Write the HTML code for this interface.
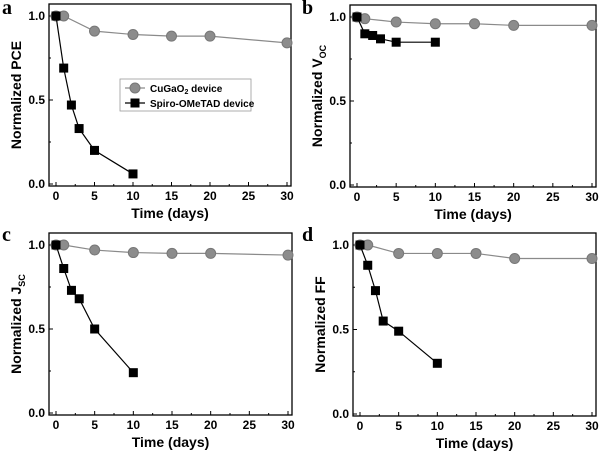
<!DOCTYPE html>
<html><head><meta charset="utf-8"><style>
body{margin:0;background:#fff;width:600px;height:452px;overflow:hidden}
svg text{font-family:"Liberation Sans",Arial,sans-serif;font-weight:bold}
svg text.letter{font-family:"Liberation Serif",serif}
</style></head><body>
<svg id="s" width="600" height="452"></svg>
<script>
const days=[0,1,5,10,15,20,30];
const spiroDays=[0,1,2,3,5,10];
const cuPCE=[1,1.0,0.91,0.89,0.88,0.88,0.84];
const spPCE=[1,0.69,0.47,0.33,0.2,0.06];
const cuVOC=[1,0.99,0.97,0.96,0.96,0.95,0.95];
const spVOC=[1,0.9,0.89,0.87,0.85,0.85];
const cuJSC=[1,1.0,0.97,0.955,0.95,0.95,0.94];
const spJSC=[1,0.86,0.73,0.68,0.5,0.24];
const cuFF=[1,1.0,0.95,0.95,0.95,0.92,0.92];
const spFF=[1,0.88,0.73,0.55,0.49,0.3];
const xTicks=[0,5,10,15,20,25,30];
const yTicks=[0.0,0.5,1.0];
const NS="http://www.w3.org/2000/svg";
const svg=document.getElementById('s');
function el(t,a,p){const e=document.createElementNS(NS,t);for(const k in a)e.setAttribute(k,a[k]);(p||svg).appendChild(e);return e;}
function panel(o){
  const g=el('g',{});
  
  
  const sx=v=>o.x0+(v/30)*(o.x30-o.x0);
  const sy=v=>o.y0-v*(o.y0-o.y1);
  const L=o.x0-7,R=o.x30+4,T=o.y1-12,B=o.y0+2;
  const fr=el('rect',{x:L,y:T,width:R-L,height:B-T,fill:'none',stroke:'#000','stroke-width':1.3},g);
  
  for(let v=0;v<=30;v+=2.5){const X=sx(v);const big=v%5===0;
    el('line',{x1:X,x2:X,y1:B,y2:B-(big?4:2),stroke:'#000','stroke-width':1},g);}
  xTicks.forEach(v=>{const t=el('text',{x:sx(v),y:B+14,'text-anchor':'middle','font-size':12},g);t.textContent=v;
    });
  for(let v=0;v<=1.0001;v+=0.25){const Y=sy(v);const big=Math.abs(v*2-Math.round(v*2))<1e-6;
    el('line',{x1:L,x2:L+(big?4:2),y1:Y,y2:Y,stroke:'#000','stroke-width':1},g);}
  yTicks.forEach(v=>{const t=el('text',{x:L-4,y:sy(v)+4,'text-anchor':'end','font-size':12},g);t.textContent=v.toFixed(1);
    });
  const xt=el('text',{x:(L+R)/2,y:B+32,'text-anchor':'middle','font-size':14},g);xt.textContent='Time (days)';
  
  const yt=el('text',{x:0,y:0,'text-anchor':'middle','font-size':14,transform:`translate(${L-28},${(T+B)/2}) rotate(-90)`},g);
  
  yt.appendChild(document.createTextNode('Normalized '+o.ylab));
  if(o.sub){const ts=el('tspan',{'font-size':9,dy:4},yt);ts.textContent=o.sub;}
  const lt=el('text',{x:o.lx,y:o.ly,'font-size':20,class:'letter'},g);lt.textContent=o.letter;
  
  const pc=el('polyline',{points:days.map((d,i)=>sx(d)+','+sy(o.cu[i])).join(' '),fill:'none',stroke:'#8a8a8a','stroke-width':1.2},g);
  
  days.forEach((d,i)=>{const c=el('circle',{cx:sx(d),cy:sy(o.cu[i]),r:5,fill:'#8c8c8c',stroke:'#777'},g);
    });
  const ps=el('polyline',{points:spiroDays.map((d,i)=>sx(d)+','+sy(o.sp[i])).join(' '),fill:'none',stroke:'#000','stroke-width':1.2},g);
  
  spiroDays.forEach((d,i)=>{const r=el('rect',{x:sx(d)-4.5,y:sy(o.sp[i])-4.5,width:9,height:9,fill:'#000'},g);
    });
  return g;
}
panel({letter:'a',x0:56,x30:287,y0:184,y1:16,cu:cuPCE,sp:spPCE,ylab:'PCE',lx:2,ly:14});
panel({letter:'b',x0:357,x30:592,y0:185,y1:17,cu:cuVOC,sp:spVOC,ylab:'V',sub:'OC',lx:302,ly:14});
panel({letter:'c',x0:56,x30:288,y0:413,y1:245,cu:cuJSC,sp:spJSC,ylab:'J',sub:'SC',lx:2,ly:241});
panel({letter:'d',x0:360,x30:592,y0:414,y1:245,cu:cuFF,sp:spFF,ylab:'FF',lx:302,ly:241});
const lg=el('g',{});


el('rect',{x:120,y:79,width:131,height:32,fill:'#fff',stroke:'#999','stroke-width':0.8},lg);
el('line',{x1:125,x2:145,y1:88,y2:88,stroke:'#8a8a8a','stroke-width':1.2},lg);
el('circle',{cx:135,cy:88,r:5,fill:'#8c8c8c',stroke:'#777'},lg);
const t1=el('text',{x:150,y:92,'font-size':10},lg);t1.textContent='CuGaO';
const s1=el('tspan',{'font-size':7,dy:2},t1);s1.textContent='2';
const s2=el('tspan',{dy:-2},t1);s2.textContent=' device';
el('line',{x1:125,x2:145,y1:103,y2:103,stroke:'#000','stroke-width':1.2},lg);
el('rect',{x:130.5,y:98.5,width:9,height:9,fill:'#000'},lg);
const t2=el('text',{x:150,y:107,'font-size':10},lg);t2.textContent='Spiro-OMeTAD device';
</script>
</body></html>
